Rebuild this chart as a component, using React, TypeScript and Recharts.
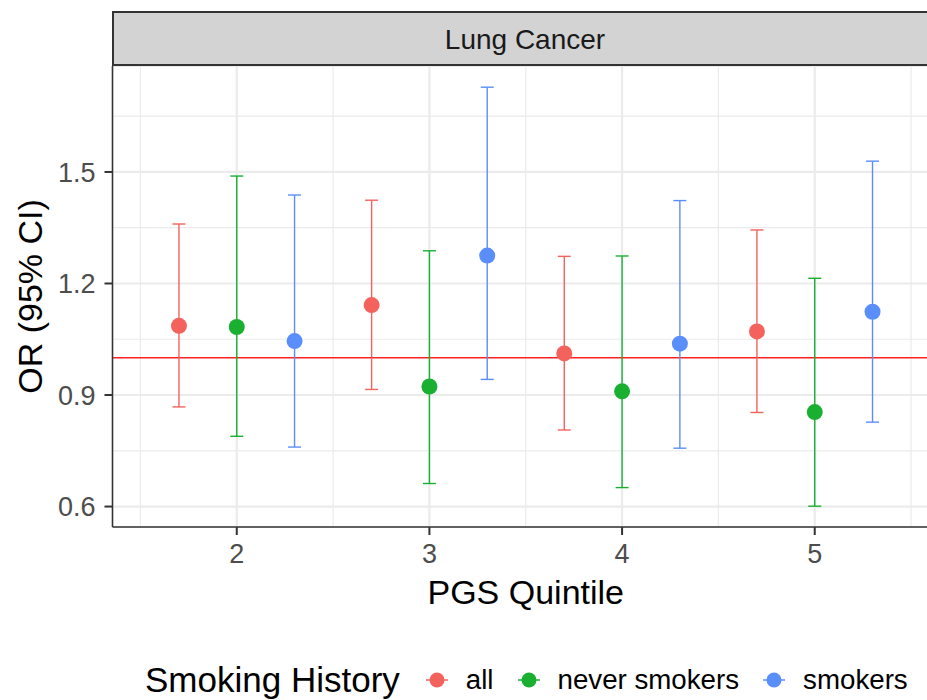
import React from 'react';
import {
  ComposedChart, Scatter, ErrorBar, XAxis, YAxis, CartesianGrid,
  ReferenceLine, Label,
} from 'recharts';

// Lung Cancer — OR (95% CI) by PGS quintile and smoking history
const quintiles = [2, 3, 4, 5];
const groups = ['all', 'never smokers', 'smokers'];
const groupColors = ['#F4625D', '#19B032', '#5A8EFA'];
const dodgeOffsets = [-0.3, 0, 0.3];

const allOR = [1.086, 1.142, 1.012, 1.071];
const allLo = [0.868, 0.915, 0.806, 0.853];
const allHi = [1.360, 1.424, 1.273, 1.344];

const neverOR = [1.083, 0.923, 0.910, 0.854];
const neverLo = [0.789, 0.662, 0.651, 0.601];
const neverHi = [1.489, 1.288, 1.274, 1.214];

const smokersOR = [1.045, 1.275, 1.038, 1.124];
const smokersLo = [0.760, 0.942, 0.757, 0.827];
const smokersHi = [1.438, 1.728, 1.423, 1.529];

const xBreaks = [2, 3, 4, 5];
const xMinor = [1.5, 2.5, 3.5, 4.5, 5.5];
const yBreaks = [0.6, 0.9, 1.2, 1.5];
const yMinor = [0.75, 1.05, 1.35, 1.65];
const xDomain = [1.355, 5.645];
const yDomain = [0.545, 1.785];
const refValue = 1;

const FONT = '"Liberation Sans", Arial, Helvetica, sans-serif';

const orBySeries = [allOR, neverOR, smokersOR];
const loBySeries = [allLo, neverLo, smokersLo];
const hiBySeries = [allHi, neverHi, smokersHi];

function seriesData(i: number) {
  return quintiles.map((q, k) => ({
    x: q + dodgeOffsets[i],
    y: orBySeries[i][k],
    err: [orBySeries[i][k] - loBySeries[i][k], hiBySeries[i][k] - orBySeries[i][k]],
  }));
}

// eslint-disable-next-line @typescript-eslint/no-explicit-any
const YTitle = ({ viewBox }: any) => {
  const x = viewBox.x + 42;
  const y = viewBox.y + viewBox.height / 2;
  return (
    <text x={x} y={y} transform={`rotate(-90, ${x}, ${y})`} textAnchor="middle"
      fontFamily={FONT} fontSize={34} fill="#000">
      OR (95% CI)
    </text>
  );
};

// eslint-disable-next-line @typescript-eslint/no-explicit-any
const XTitle = ({ viewBox }: any) => (
  <text x={viewBox.x + viewBox.width / 2} y={viewBox.y + 77} textAnchor="middle"
    fontFamily={FONT} fontSize={34} fill="#000">
    PGS Quintile
  </text>
);

function LegendKey({ color }: { color: string }) {
  return (
    <svg width={22} height={18} style={{ display: 'block' }}>
      <line x1={0} x2={22} y1={9} y2={9} stroke={color} strokeWidth={1.5} />
      <circle cx={11} cy={9} r={7.5} fill={color} />
    </svg>
  );
}

export default function App() {
  return (
    <div style={{
      position: 'fixed', left: 0, top: 0, width: 927, height: 700,
      overflow: 'hidden', background: '#fff', fontFamily: FONT,
    }}>
      {/* facet strip */}
      <div style={{
        position: 'absolute', left: 111.5, top: 11, width: 827, height: 55,
        boxSizing: 'border-box', border: '2px solid #333', background: '#D3D3D3',
        display: 'flex', alignItems: 'center', justifyContent: 'center',
        fontSize: 28, color: '#1A1A1A', zIndex: 2, paddingTop: 2,
      }}>
        Lung Cancer
      </div>

      <ComposedChart width={939} height={700} margin={{ top: 66, right: 0, bottom: 0, left: 0 }}>
        <CartesianGrid stroke="#EBEBEB" strokeWidth={2.2} />
        {xMinor.map((v) => (
          <ReferenceLine key={`vx${v}`} x={v} stroke="#EBEBEB" strokeWidth={1.2} />
        ))}
        {yMinor.map((v) => (
          <ReferenceLine key={`hy${v}`} y={v} stroke="#EBEBEB" strokeWidth={1.2} />
        ))}
        <XAxis dataKey="x" type="number" domain={xDomain} ticks={xBreaks} allowDataOverflow
          height={173} tickSize={8} tickMargin={8.5}
          axisLine={{ stroke: '#333', strokeWidth: 1.5 }}
          tickLine={{ stroke: '#333', strokeWidth: 2 }}
          tick={{ fill: '#4D4D4D', fontSize: 27, fontFamily: FONT }}>
          <Label content={<XTitle />} />
        </XAxis>
        <YAxis dataKey="y" type="number" domain={yDomain} ticks={yBreaks} allowDataOverflow
          width={112.5} tickSize={8} tickMargin={9}
          tickFormatter={(v) => v.toFixed(1)}
          axisLine={{ stroke: '#333', strokeWidth: 1.5 }}
          tickLine={{ stroke: '#333', strokeWidth: 2 }}
          tick={{ fill: '#4D4D4D', fontSize: 27, fontFamily: FONT }}>
          <Label content={<YTitle />} />
        </YAxis>
        <ReferenceLine y={refValue} stroke="#FF2020" strokeWidth={1.5} />
        {groups.map((g, i) => (
          <Scatter key={g} name={g} data={seriesData(i)} isAnimationActive={false}
            // eslint-disable-next-line @typescript-eslint/no-explicit-any
            shape={(p: any) => <circle cx={p.cx} cy={p.cy} r={8} fill={groupColors[i]} />}>
            <ErrorBar dataKey="err" direction="y" width={6.5} stroke={groupColors[i]}
              strokeWidth={1.4} isAnimationActive={false} />
          </Scatter>
        ))}
      </ComposedChart>

      {/* legend */}
      <div style={{
        position: 'absolute', left: 145, top: 662, display: 'flex', alignItems: 'center',
        lineHeight: 1, whiteSpace: 'nowrap',
      }}>
        <span style={{ fontSize: 35, color: '#000', marginRight: 26 }}>Smoking History</span>
        {groups.map((g, i) => (
          <React.Fragment key={g}>
            <LegendKey color={groupColors[i]} />
            <span style={{ fontSize: 27.7, color: '#000', marginLeft: 18, marginRight: 24 }}>{g}</span>
          </React.Fragment>
        ))}
      </div>
    </div>
  );
}
